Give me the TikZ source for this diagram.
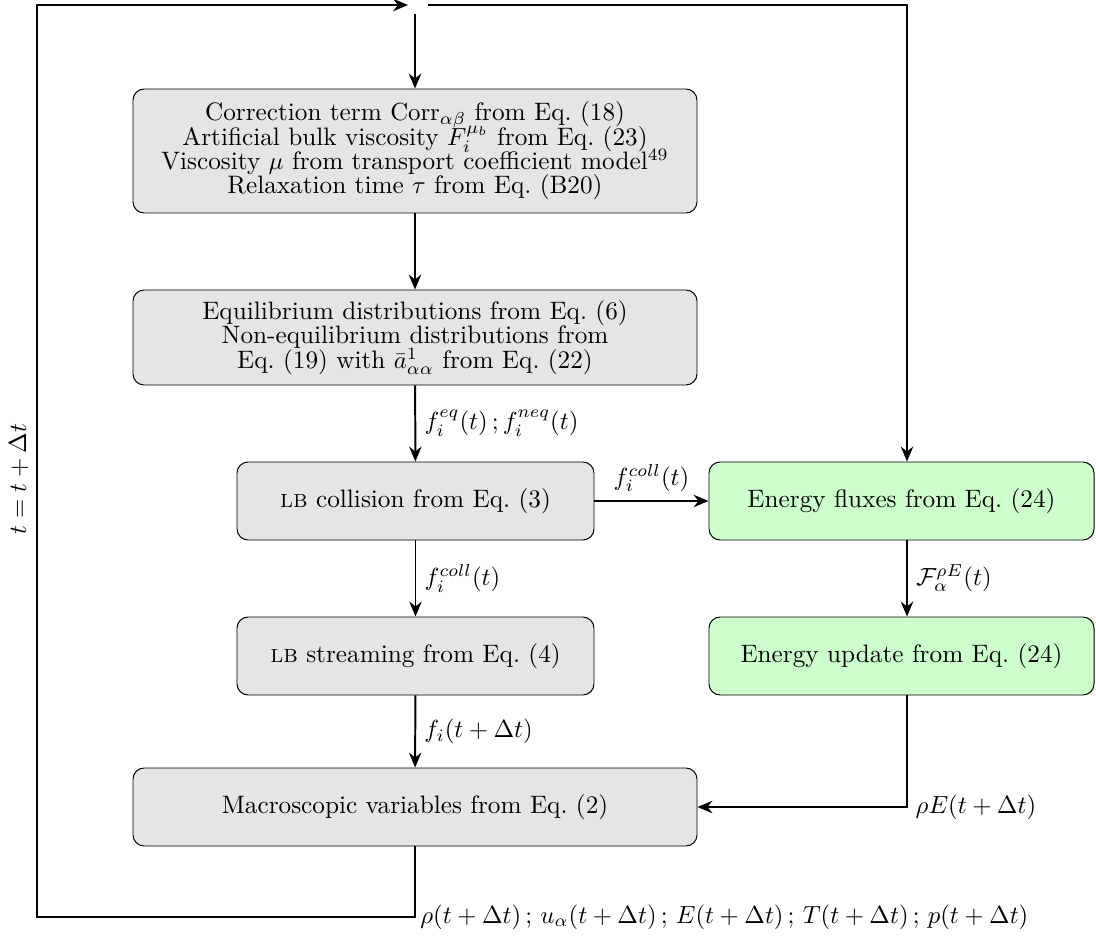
\documentclass[tikz,border=0pt]{standalone}
\usepackage{amsmath}
\usetikzlibrary{arrows.meta,calc}
\def\PX{0.0142cm}
\tikzset{
  procbox/.style={draw=black, rounded corners=4.5pt, fill=gray!20, align=center,
    inner sep=0pt, font={\fontsize{10.2}{9.8}\selectfont\lineskiplimit=-20pt\lineskip=0pt}},
  energybox/.style={procbox, fill=green!20},
  flow/.style={thick, -{Stealth[length=6pt,width=5pt]}},
  lbl/.style={font=\fontsize{10.2}{12}\selectfont},
}
\begin{document}
\begin{tikzpicture}[x=\PX, y=-\PX]
\useasboundingbox (0,0) rectangle (1096,937);

\node[procbox, minimum width=564*\PX, minimum height=124*\PX] (corr) at (415,151)
  {Correction term $\mathrm{Corr}_{\alpha\beta}$ from Eq.~(18)\\
   Artificial bulk viscosity $F_i^{\mu_b}$ from Eq.~(23)\\
   Viscosity $\mu$ from transport coefficient model$^{49}$\\
   Relaxation time $\tau$ from Eq.~(B20)};
\node[procbox, minimum width=564*\PX, minimum height=95*\PX] (equi) at (415,337.5)
  {Equilibrium distributions from Eq.~(6)\\
   Non-equilibrium distributions from\\
   Eq.~(19) with $\bar{a}^1_{\alpha\alpha}$ from Eq.~(22)};
\node[procbox, minimum width=357*\PX, minimum height=78*\PX] (coll) at (415.5,501)
  {\textsc{lb} collision from Eq.~(3)};
\node[procbox, minimum width=357*\PX, minimum height=78*\PX] (stream) at (415.5,656)
  {\textsc{lb} streaming from Eq.~(4)};
\node[procbox, minimum width=564*\PX, minimum height=78*\PX] (macro) at (415,807)
  {Macroscopic variables from Eq.~(2)};
\node[energybox, minimum width=385*\PX, minimum height=78*\PX] (flux) at (901.5,501)
  {Energy fluxes from Eq.~(24)};
\node[energybox, minimum width=385*\PX, minimum height=78*\PX] (update) at (901.5,656)
  {Energy update from Eq.~(24)};

\coordinate (topL) at (408,5);
\coordinate (topR) at (428,5);
\coordinate (topD) at (415,14);
\coordinate (tl) at (37,5);
\coordinate (bl) at (37,917);
\coordinate (br) at (415,917);
\coordinate (fx) at (907,0);
\coordinate (ec) at (907,807);

% main chain
\draw[flow] (topD) -- (corr.north -| topD);
\draw[flow] (corr) -- (equi);
\draw[flow] (equi) -- node[lbl, right] {$f_i^{eq}(t)\,;f_i^{neq}(t)$} (coll);
\draw[flow] (coll) -- node[lbl, right] {$f_i^{coll}(t)$} (stream);
\draw[flow] (stream) -- node[lbl, right] {$f_i(t+\Delta t)$} (macro);
\draw[flow] (coll) -- node[lbl, above] {$f_i^{coll}(t)$} (flux);

% energy branch
\draw[flow] (topR) -| (flux.north -| fx);
\draw[flow] (flux.south -| fx) -- node[lbl, right] {$\mathcal{F}_\alpha^{\rho E}(t)$} (update.north -| fx);
\draw[flow] (update.south -| fx) -- (ec) -- (macro.east);
\node[lbl, anchor=west] (rhoE) at (ec) {$\rho E(t+\Delta t)$};

% time loop
\draw[flow] (macro.south -| br) -- (br) -- (bl) -- (tl) -- (topL);
\node[lbl, anchor=west, inner sep=2pt] (vars) at (br)
  {$\rho(t+\Delta t)\,;\,u_\alpha(t+\Delta t)\,;\,E(t+\Delta t)\,;\,T(t+\Delta t)\,;\,p(t+\Delta t)$};
\node[lbl, rotate=90, anchor=south] (step) at (37,479) {$t=t+\Delta t$};
\end{tikzpicture}
\end{document}
